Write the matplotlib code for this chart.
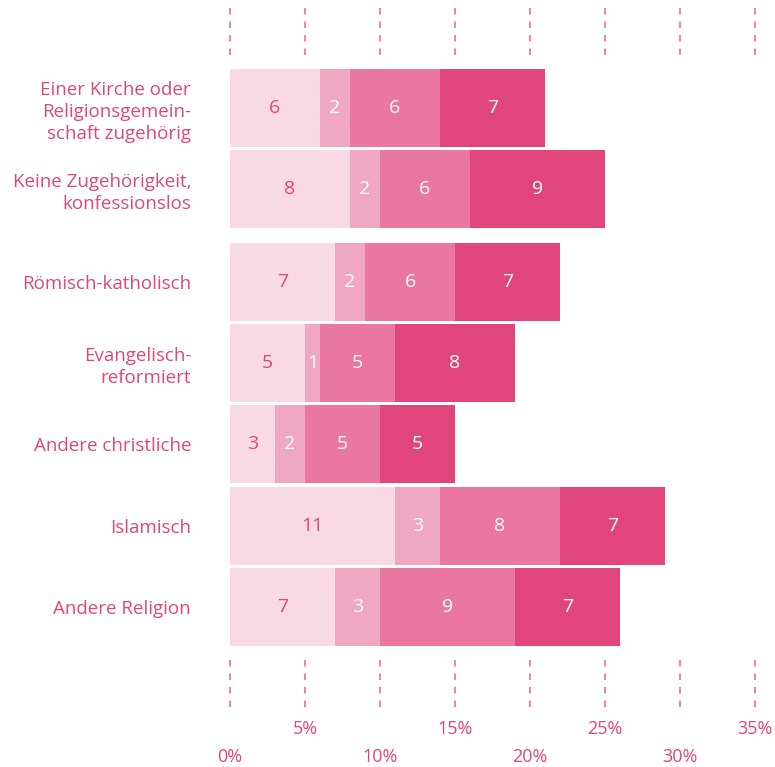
import matplotlib
matplotlib.use("Agg")
import matplotlib.pyplot as plt
import numpy as np

categories = ["Einer Kirche oder\nReligionsgemein-\nschaft zugehörig",
              "Keine Zugehörigkeit,\nkonfessionslos",
              "Römisch-katholisch",
              "Evangelisch-\nreformiert",
              "Andere christliche",
              "Islamisch",
              "Andere Religion"]
seg1 = [6, 8, 7, 5, 3, 11, 7]
seg2 = [2, 2, 2, 1, 2, 3, 3]
seg3 = [6, 6, 6, 5, 5, 8, 9]
seg4 = [7, 9, 7, 8, 5, 7, 7]
series = [seg1, seg2, seg3, seg4]
colors = ["#f9d9e4", "#f0a7c2", "#e9779f", "#e0457c"]
label_colors = ["#e0457c", "white", "white", "white"]
major_ticks = [0, 10, 20, 30]
minor_ticks = [5, 15, 25, 35]

positions = [0, 1, 2.15, 3.15, 4.15, 5.16, 6.16]
text_color = "#e0457c"

plt.rcParams['font.family'] = ['Open Sans', 'DejaVu Sans']
plt.rcParams['lines.scale_dashes'] = False

W, H = 775, 767
fig = plt.figure(figsize=(W / 100, H / 100), dpi=100)
ax = fig.add_axes([230 / W, 59 / H, 525 / W, 708 / H])

left = np.zeros(len(categories))
for vals, c, lc in zip(series, colors, label_colors):
    vals = np.array(vals, dtype=float)
    ax.barh(positions, vals, left=left, height=0.963, color=c, edgecolor='none')
    for y, l, v in zip(positions, left, vals):
        ax.text(l + v / 2, y, f"{int(v)}", ha='center', va='center',
                color=lc, fontsize=14)
    left += vals

ax.set_xlim(0, 35)
ax.set_ylim(600 / 81, -108 / 81)

# dashed tick lines at top and bottom
for x in major_ticks + minor_ticks:
    ax.plot([x, x], [1 - 8 / 708, 1 - 55 / 708], transform=ax.get_xaxis_transform(),
            color="#ec7aa0", lw=1.3, linestyle=(0, (6.5 * 0.72, 7 * 0.72)),
            clip_on=False, dash_capstyle='butt')
    ax.plot([x, x], [1 - 660 / 708, 0], transform=ax.get_xaxis_transform(),
            color="#ec7aa0", lw=1.3, linestyle=(0, (6.5 * 0.72, 7 * 0.72)),
            clip_on=False, dash_capstyle='butt')

ax.set_xticks(major_ticks, [f"{t}%" for t in major_ticks])
ax.set_xticks(minor_ticks, [f"{t}%" for t in minor_ticks], minor=True)
ax.tick_params(axis='x', which='major', length=0, pad=29, labelsize=13, labelcolor=text_color)
ax.tick_params(axis='x', which='minor', length=0, pad=9, labelsize=13, labelcolor=text_color)

ax.set_yticks(positions, categories)
ax.tick_params(axis='y', length=0, pad=28, labelsize=13.5, labelcolor=text_color)
for lab in ax.get_yticklabels():
    lab.set_linespacing(1.3)
    lab.set_horizontalalignment('right')

for s in ax.spines.values():
    s.set_visible(False)

fig.savefig("out.png", dpi=100)
